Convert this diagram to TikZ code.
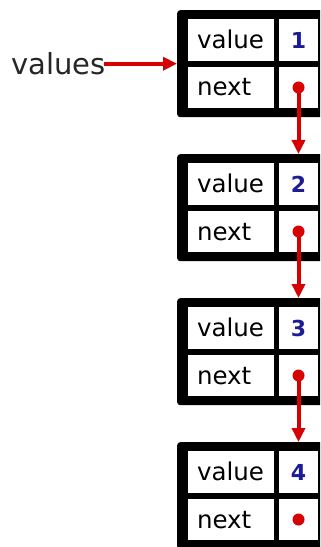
\documentclass[tikz,border=0pt]{standalone}
\usepackage{fontspec}
\setmainfont{DejaVu Sans}
\usetikzlibrary{arrows.meta,calc}
\definecolor{arrred}{RGB}{215,0,0}
\definecolor{numblue}{RGB}{28,28,150}
\tikzset{
  frame/.style={fill=black, draw=none, rounded corners=3bp, minimum width=160bp, minimum height=107bp, anchor=north west, inner sep=0pt},
  cellbase/.style={fill=white, draw=black, line width=1bp, anchor=north west, inner sep=0pt, text height=17bp, text depth=0bp, font=\fontsize{24.5bp}{28bp}\selectfont},
  namecell/.style={cellbase, minimum width=87bp, text width=68bp, align=left, inner xsep=9.5bp},
  valcell/.style={cellbase, minimum width=40bp, text width=40bp, align=center, font=\fontsize{22bp}{26bp}\selectfont\bfseries, text=numblue},
  ptrcell/.style={cellbase, minimum width=40bp},
  toprow/.style={minimum height=43bp},
  botrow/.style={minimum height=42bp},
  arr/.style={draw=arrred, line width=4bp, -{Triangle[length=14bp,width=13bp]}},
  ptrdot/.style={fill=arrred}
}
\begin{document}
\begin{tikzpicture}[x=1bp,y=-1bp]
\useasboundingbox (0,0) rectangle (320,547);
\clip (0,0) rectangle (320,547);
\fill[white] (0,0) rectangle (320,547);
\foreach \i/\T in {1/10,2/154,3/298,4/442}{
  \node[frame] (f\i) at (177,\T) {};
  \node[namecell,toprow] (v\i) at (187,\T+8) {value};
  \node[valcell,toprow] (n\i) at (278,\T+8) {\i};
  \node[namecell,botrow] (x\i) at (187,\T+56) {next};
  \node[ptrcell,botrow] (p\i) at (278,\T+56) {};
  \fill[ptrdot] (p\i.center) circle (6bp);
}
\node[anchor=base east, inner sep=0pt, font=\fontsize{29bp}{33bp}\selectfont, text=black!85] (lbl) at (106,75) {values};
\draw[arr, shorten <=-2bp] (f1.west -| lbl.east) -- (f1.west);
\foreach \a/\b in {1/2,2/3,3/4}{
  \draw[arr] (p\a.center) -- (p\a.center |- f\b.north);
}
\end{tikzpicture}
\end{document}
